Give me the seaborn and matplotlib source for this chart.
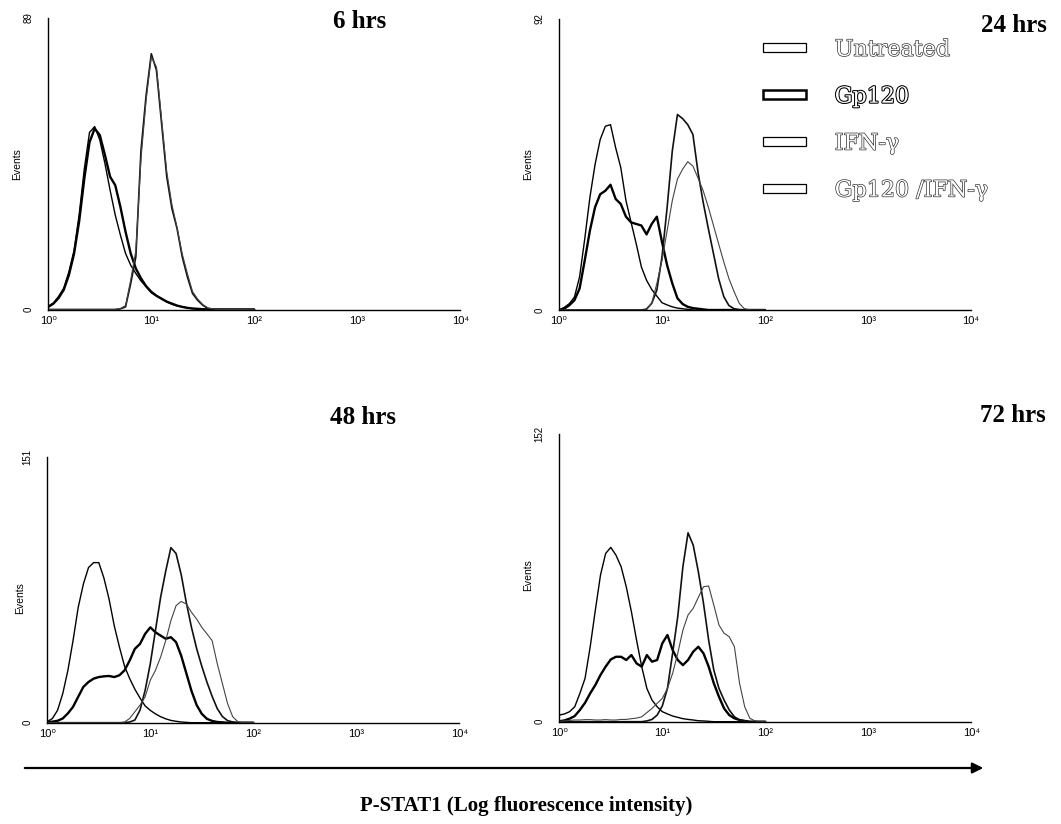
import matplotlib
matplotlib.use("Agg")
import numpy as np
import pandas as pd
import matplotlib.pyplot as plt
import matplotlib.patheffects as pe
from matplotlib.patches import Patch, FancyArrowPatch
from matplotlib.ticker import FixedLocator, LogLocator, NullFormatter
from matplotlib.font_manager import FontProperties
import seaborn as sns

# ---------------------------------------------------------------- data
# histogram channels, in decades of fluorescence (10**channel)
LOG_CHANNEL = [0.00, 0.05, 0.10, 0.15, 0.20, 0.25, 0.30, 0.35, 0.40, 0.45,
               0.50, 0.55, 0.60, 0.65, 0.70, 0.75, 0.80, 0.85, 0.90, 0.95,
               1.00, 1.05, 1.10, 1.15, 1.20, 1.25, 1.30, 1.35, 1.40, 1.45,
               1.50, 1.55, 1.60, 1.65, 1.70, 1.75, 1.80, 1.85, 1.90, 1.95,
               2.00]

TREATMENTS = ["Untreated", "Gp120", "IFN-\u03b3", "Gp120 /IFN-\u03b3"]
TIMEPOINTS = ["6 hrs", "24 hrs", "48 hrs", "72 hrs"]
EVENTS_MAX = [89, 92, 151, 152]
DECADE_LABELS = ["10\u2070", "10\u00b9", "10\u00b2", "10\u00b3", "10\u2074"]
AXIS_LABEL = "P-STAT1 (Log fluorescence intensity)"

# 6 hrs
UNT_6 = [1.0, 2.0, 4.0, 6.5, 11.5, 18.0, 29.0, 43.0, 54.0, 55.8,
         51.7, 44.5, 36.4, 28.8, 22.7, 17.1, 13.5, 11.0, 8.7, 6.9,
         5.1, 4.1, 3.2, 2.3, 1.6, 1.1, 0.8, 0.5, 0.3, 0.2,
         0.1, 0, 0, 0, 0, 0, 0, 0, 0, 0, 0]
GP_6 = [0.8, 1.8, 3.5, 6.0, 10.5, 17.0, 27.0, 40.0, 51.0, 55.2,
        53.2, 47.1, 40.5, 37.9, 31.3, 23.7, 17.1, 12.5, 9.5, 7.1,
        5.4, 4.2, 3.3, 2.4, 1.8, 1.2, 0.8, 0.5, 0.3, 0.2,
        0.1, 0, 0, 0, 0, 0, 0, 0, 0, 0, 0]
IFN_6 = [0, 0, 0, 0, 0, 0, 0, 0, 0, 0,
         0, 0, 0, 0, 0.2, 0.8, 7.9, 16.1, 48.6, 65.4,
         78.0, 73.0, 56.7, 40.5, 30.8, 24.7, 16.1, 10.0, 4.9, 2.8,
         1.3, 0.3, 0.1, 0, 0, 0, 0, 0, 0, 0, 0]
COMBO_6 = [0, 0, 0, 0, 0, 0, 0, 0, 0, 0,
           0, 0, 0, 0, 0.3, 1.2, 9.0, 18.0, 46.0, 64.0,
           77.0, 74.0, 58.0, 42.0, 32.0, 25.0, 17.0, 11.0, 5.5, 3.2,
           1.5, 0.5, 0.2, 0, 0, 0, 0, 0, 0, 0, 0]

# 24 hrs
UNT_24 = [0, 0.8, 2.0, 4.1, 10.5, 22.5, 35.6, 46.0, 53.9, 58.1,
          58.6, 51.3, 45.0, 34.6, 27.7, 20.9, 13.6, 9.4, 6.5, 4.4,
          2.3, 1.6, 1.0, 0.6, 0.4, 0.2, 0, 0, 0, 0,
          0, 0, 0, 0, 0, 0, 0, 0, 0, 0, 0]
GP_24 = [0, 0.4, 1.5, 3.1, 6.8, 15.7, 25.1, 32.5, 36.6, 37.7,
         39.6, 35.1, 33.5, 29.5, 27.7, 27.2, 26.7, 23.9, 27.2, 29.5,
         21.5, 14.1, 8.4, 3.7, 1.9, 1.0, 0.6, 0.4, 0.2, 0,
         0, 0, 0, 0, 0, 0, 0, 0, 0, 0, 0]
IFN_24 = [0, 0, 0, 0, 0, 0, 0, 0, 0, 0,
          0, 0, 0, 0, 0, 0, 0, 0.3, 2.1, 6.3,
          16.8, 32.5, 50.3, 61.8, 60.5, 58.6, 55.5, 43.5, 34.0, 25.7,
          17.8, 9.9, 4.2, 1.4, 0.4, 0.1, 0, 0, 0, 0, 0]
COMBO_24 = [0, 0, 0, 0, 0, 0, 0, 0, 0, 0,
            0, 0, 0, 0, 0, 0, 0, 0.1, 2.1, 8.4,
            15.7, 25.1, 34.6, 41.4, 44.5, 46.9, 45.5, 41.7, 37.7, 32.5,
            26.7, 20.9, 15.2, 9.9, 5.8, 2.1, 0.4, 0.1, 0, 0, 0]

# 48 hrs
UNT_48 = [0.6, 2.4, 7.1, 16.5, 29.7, 46.6, 65.4, 78.6, 88.0, 90.8,
          90.8, 82.0, 70.0, 55.0, 43.0, 32.0, 25.0, 19.0, 14.0, 9.5,
          7.0, 5.0, 3.4, 2.2, 1.3, 0.8, 0.4, 0.2, 0, 0,
          0, 0, 0, 0, 0, 0, 0, 0, 0, 0, 0]
GP_48 = [0.2, 0.6, 1.1, 2.4, 5.3, 9.0, 14.7, 20.3, 23.1, 25.0,
         25.9, 26.3, 26.5, 25.9, 26.9, 29.7, 35.3, 41.9, 44.7, 50.4,
         54.1, 51.3, 49.4, 47.6, 48.5, 45.7, 38.0, 28.0, 18.0, 10.0,
         5.0, 2.2, 1.0, 0.4, 0.2, 0, 0, 0, 0, 0, 0]
IFN_48 = [0, 0, 0, 0, 0, 0, 0, 0, 0, 0,
          0, 0, 0, 0, 0, 0, 0.4, 1.5, 7.1, 18.4,
          33.5, 52.3, 71.1, 86.1, 99.3, 96.0, 84.0, 68.0, 54.0, 42.0,
          32.0, 23.0, 15.0, 8.0, 3.5, 1.2, 0.4, 0, 0, 0, 0]
COMBO_48 = [0, 0, 0, 0, 0, 0, 0, 0, 0, 0,
            0, 0, 0, 0, 0, 0.4, 2.4, 6.2, 10.0, 14.7,
            24.1, 29.7, 37.2, 46.6, 57.9, 66.4, 68.8, 67.3, 62.6, 58.8,
            54.1, 50.4, 46.6, 33.5, 22.2, 10.9, 3.4, 0.6, 0, 0, 0]

# 72 hrs
UNT_72 = [3.5, 4.1, 5.3, 7.9, 15.0, 22.9, 39.6, 59.0, 77.5, 88.9,
          92.1, 88.0, 81.9, 71.3, 58.1, 43.1, 29.1, 17.6, 11.4, 7.9,
          5.3, 4.1, 3.0, 2.3, 1.6, 1.2, 0.9, 0.5, 0.4, 0.2,
          0, 0, 0, 0, 0, 0, 0, 0, 0, 0, 0]
GP_72 = [0.2, 0.7, 1.6, 3.0, 6.2, 10.0, 15.0, 19.4, 24.7, 29.1,
         32.9, 34.3, 34.3, 32.6, 35.2, 30.8, 29.1, 35.2, 31.7, 32.6,
         41.4, 45.8, 37.9, 32.6, 29.9, 32.6, 37.0, 39.6, 36.1, 29.1,
         20.3, 13.2, 7.0, 3.5, 1.8, 0.9, 0.4, 0, 0, 0, 0]
IFN_72 = [0, 0, 0, 0, 0, 0, 0, 0, 0, 0,
          0, 0, 0, 0, 0, 0, 0, 0.4, 1.2, 3.5,
          8.3, 17.6, 36.1, 55.5, 81.9, 99.8, 93.3, 79.2, 62.5, 43.1,
          27.3, 17.6, 11.4, 6.2, 2.6, 0.9, 0.4, 0, 0, 0, 0]
COMBO_72 = [0.2, 0.4, 0.7, 0.9, 0.9, 1.1, 1.1, 0.9, 0.9, 1.1,
            0.9, 0.9, 1.2, 1.2, 1.6, 1.9, 2.6, 4.8, 7.0, 9.7,
            12.3, 17.6, 25.5, 36.1, 48.4, 56.4, 59.9, 65.7, 71.3, 71.7,
            61.6, 51.1, 46.7, 44.9, 39.6, 20.3, 7.9, 1.8, 0.4, 0, 0]

SERIES = {
    "6 hrs": [UNT_6, GP_6, IFN_6, COMBO_6],
    "24 hrs": [UNT_24, GP_24, IFN_24, COMBO_24],
    "48 hrs": [UNT_48, GP_48, IFN_48, COMBO_48],
    "72 hrs": [UNT_72, GP_72, IFN_72, COMBO_72],
}

# ---------------------------------------------------------------- styling
LINE_COLORS = dict(zip(TREATMENTS, ["#000000", "#000000", "#111111", "#444444"]))
LINE_WIDTHS = dict(zip(TREATMENTS, [1.0, 1.7, 1.2, 0.8]))

sns.set_style("white")
plt.rcParams["font.family"] = ["DejaVu Sans"]
plt.rcParams.update({"text.color": "black", "axes.labelcolor": "black",
                     "xtick.color": "black", "ytick.color": "black",
                     "axes.edgecolor": "black"})

SANS_NARROW = ["Liberation Sans Narrow", "Liberation Sans", "DejaVu Sans"]
SERIF_BOLD = dict(family=["Liberation Serif", "DejaVu Serif"], weight="bold")

rows = []
for tp in TIMEPOINTS:
    for treat, counts in zip(TREATMENTS, SERIES[tp]):
        for ch, n in zip(LOG_CHANNEL, counts):
            rows.append({"time": tp, "treatment": treat,
                         "fluorescence": 10 ** ch, "events": n})
df = pd.DataFrame(rows)

W, H = 1061, 824
fig = plt.figure(figsize=(W / 100, H / 100), dpi=100)
fig.patch.set_facecolor("white")


def px_rect(left, top, right, bottom):
    return [left / W, 1 - bottom / H, (right - left) / W, (bottom - top) / H]


AX_RECTS = [px_rect(48.3, 17.7, 460.3, 309.5),
            px_rect(559.0, 19.0, 971.0, 310.0),
            px_rect(47.3, 456.5, 459.3, 722.7),
            px_rect(559.3, 434.0, 971.3, 721.7)]
EVENTS_POS = [(-0.064, 0.50), (-0.064, 0.50), (-0.054, 0.47), (-0.064, 0.51)]
TITLE_POS = [(360, 21.5), (1014, 26), (363, 417), (1013, 416)]

axes = []
for i, tp in enumerate(TIMEPOINTS):
    ax = fig.add_axes(AX_RECTS[i])
    sub = df[df["time"] == tp]
    sns.lineplot(data=sub, x="fluorescence", y="events", hue="treatment",
                 size="treatment", hue_order=TREATMENTS, size_order=TREATMENTS,
                 palette=LINE_COLORS, sizes=LINE_WIDTHS, estimator=None,
                 sort=False, legend=False, ax=ax)
    ax.set_xscale("log")
    ax.set_xlim(1, 1e4)
    ymax = EVENTS_MAX[i]
    ax.set_ylim(0, ymax)

    for side in ("top", "right"):
        ax.spines[side].set_visible(False)
    for side in ("left", "bottom"):
        ax.spines[side].set_color("black")
        ax.spines[side].set_linewidth(1.0)

    ax.set_xticks([1, 10, 100, 1000, 10000])
    ax.set_xticklabels(DECADE_LABELS, family=SANS_NARROW, fontsize=8)
    ax.xaxis.set_minor_locator(LogLocator(base=10, subs=np.arange(2, 10)))
    ax.xaxis.set_minor_formatter(NullFormatter())
    ax.tick_params(axis="x", which="major", direction="out", length=2.5,
                   width=0.8, pad=2, colors="black")
    ax.tick_params(axis="x", which="minor", direction="out", length=1.5,
                   width=0.6)

    ax.set_yticks([0, ymax])
    ax.set_yticklabels(["0", str(ymax)], family=SANS_NARROW, fontsize=7,
                       rotation=90, va="center")
    ax.yaxis.set_minor_locator(FixedLocator([ymax / 4, ymax / 2, 3 * ymax / 4]))
    ax.tick_params(axis="y", which="major", direction="out", length=2.5,
                   width=0.8, pad=8, colors="black")
    ax.tick_params(axis="y", which="minor", direction="out", length=2.5,
                   width=0.8)

    ax.set_xlabel("")
    ax.set_ylabel("Events", family=SANS_NARROW, fontsize=7.5, color="black")
    ax.yaxis.set_label_coords(*EVENTS_POS[i])
    ax.grid(False)
    ax.set_facecolor("white")

    tx, ty = TITLE_POS[i]
    fig.text(tx / W, 1 - ty / H, tp, ha="center", va="center", fontsize=18,
             color="black", **SERIF_BOLD)
    axes.append(ax)

# legend in the 24 hrs panel: hollow boxes, outlined serif labels
handles = [Patch(facecolor="white", edgecolor="black", linewidth=lw)
           for lw in (0.9, 1.8, 0.9, 0.9)]
leg = axes[1].legend(handles, TREATMENTS, loc="upper left",
                     bbox_to_anchor=(0.494, 0.932), frameon=False,
                     prop=FontProperties(family="DejaVu Serif", size=16),
                     handlelength=1.95, handleheight=0.25, handletextpad=1.3,
                     labelspacing=1.12, borderaxespad=0, borderpad=0)
for txt, (sw, sc) in zip(leg.get_texts(),
                         ((1.0, "#333333"), (1.5, "#000000"),
                          (1.0, "#333333"), (1.0, "#333333"))):
    txt.set_color("white")
    txt.set_path_effects([pe.withStroke(linewidth=sw, foreground=sc)])

# shared x-axis arrow and caption
arrow = FancyArrowPatch(posA=(22 / W, 1 - 768 / H), posB=(986 / W, 1 - 768 / H),
                        transform=fig.transFigure, arrowstyle="-|>",
                        mutation_scale=16, linewidth=1.6, color="black")
fig.add_artist(arrow)
fig.text(526 / W, 1 - 806 / H, AXIS_LABEL, ha="center", va="center",
         fontsize=15, color="black", **SERIF_BOLD)

fig.savefig("out.png", dpi=100, facecolor="white")
